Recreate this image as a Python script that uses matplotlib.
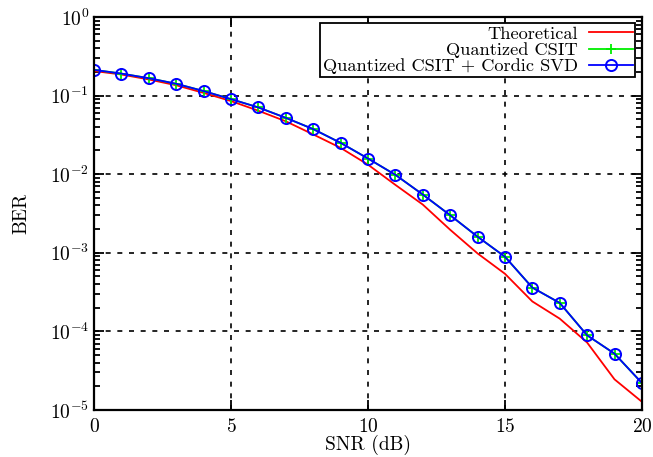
import numpy as np
import matplotlib
matplotlib.use('Agg')
import matplotlib.pyplot as plt
from matplotlib.ticker import LogLocator, NullFormatter

plt.rcParams['font.family'] = 'serif'
plt.rcParams['font.serif'] = ['cmr10']
plt.rcParams['mathtext.fontset'] = 'cm'
plt.rcParams['axes.formatter.use_mathtext'] = True

# --- data ---
snr = np.arange(0, 21)
ber_theory = [0.205, 0.185, 0.160, 0.135, 0.108, 0.085, 0.064, 0.047, 0.032, 0.0216,
              0.0132, 0.0073, 0.0041, 0.00196, 0.00098, 0.00054, 0.00024, 0.000145,
              7.2e-5, 2.45e-5, 1.27e-5]
ber_quant = [0.212, 0.190, 0.166, 0.141, 0.114, 0.090, 0.0705, 0.052, 0.0374, 0.025,
             0.0158, 0.0098, 0.0055, 0.0030, 0.0016, 0.00089, 0.00036, 0.00023,
             8.9e-5, 5.2e-5, 2.2e-5]
ber_cordic = [0.212, 0.190, 0.166, 0.141, 0.114, 0.090, 0.0705, 0.052, 0.0374, 0.025,
              0.0158, 0.0098, 0.0055, 0.0030, 0.0016, 0.00089, 0.00036, 0.00023,
              8.9e-5, 5.2e-5, 2.2e-5]

fig = plt.figure(figsize=(6.53, 4.57), dpi=100)
ax = fig.add_axes([0.144, 0.103, 0.839, 0.860])

ax.semilogy(snr, ber_theory, '-', color='red', linewidth=1.3, label='Theoretical')
ax.semilogy(snr, ber_quant, '-', color='#00ee00', linewidth=1.3, marker='+',
            markersize=7, markeredgewidth=1.3, label='Quantized CSIT')
ax.semilogy(snr, ber_cordic, '-', color='blue', linewidth=1.3, marker='o',
            markersize=8, markerfacecolor='none', markeredgewidth=1.4,
            label='Quantized CSIT + Cordic SVD')

ax.set_xlim(0, 20)
ax.set_ylim(1e-5, 1)
ax.set_xticks([0, 5, 10, 15, 20])
ax.yaxis.set_major_locator(LogLocator(base=10, numticks=10))
ax.yaxis.set_minor_locator(LogLocator(base=10, subs=np.arange(2, 10), numticks=10))
ax.yaxis.set_minor_formatter(NullFormatter())

ax.grid(True, which='major', color='black', linestyle=(0, (3, 4)), linewidth=1.2)
ax.tick_params(which='both', direction='in', top=True, right=True, labelsize=14, width=1.3)
ax.tick_params(which='major', length=7)
ax.tick_params(which='minor', length=4)
ax.tick_params(axis='x', pad=6)
for s in ax.spines.values():
    s.set_linewidth(1.6)

ax.set_xlabel('SNR (dB)', fontsize=14, labelpad=-1)
ax.set_ylabel('BER', fontsize=14, labelpad=14)

leg = ax.legend(loc='upper right', markerfirst=False, fontsize=13.2, frameon=True,
                fancybox=False, edgecolor='black', framealpha=1, borderpad=0.15,
                labelspacing=0.02, handlelength=2.4, handletextpad=0.6,
                borderaxespad=0.35)
leg.get_frame().set_linewidth(1.3)

fig.savefig('out.png', dpi=100)
